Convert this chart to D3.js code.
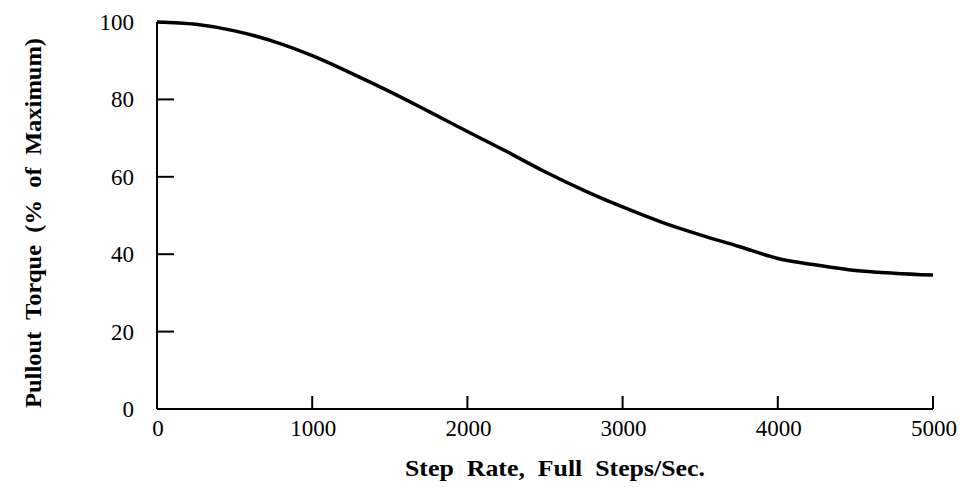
<!DOCTYPE html>
<html><head><meta charset="utf-8">
<script src="https://cdn.jsdelivr.net/npm/d3@7"></script>
<style>body{margin:0;background:#fff}svg{display:block}</style>
</head><body>
<svg id="c" width="964" height="487"></svg>
<script>
const stepRates = [0,250,500,750,1000,1250,1500,1750,2000,2250,2500,2750,3000,3250,3500,3750,4000,4250,4500,4750,5000];
const torque   = [100,99.4,97.7,95.0,91.3,86.8,82.0,76.9,71.7,66.6,61.3,56.5,52.2,48.3,45.0,42.0,38.9,37.2,35.8,35.1,34.6];
const xTicks = [0,1000,2000,3000,4000,5000];
const yTicks = [0,20,40,60,80,100];
const xTitle = "Step  Rate,  Full  Steps/Sec.";
const yTitle = "Pullout  Torque  (%  of  Maximum)";

const svg = d3.select("#c");
const x = d3.scaleLinear().domain([0,5000]).range([157,933]);
const y = d3.scaleLinear().domain([0,100]).range([409,22]);
const font = "'Liberation Serif','Times New Roman',serif";

// axes lines
svg.append("line").attr("x1",x(0)).attr("x2",x(5000)).attr("y1",y(0)).attr("y2",y(0)).attr("stroke","#000").attr("stroke-width",2);
svg.append("line").attr("x1",x(0)).attr("x2",x(0)).attr("y1",y(0)).attr("y2",y(100)).attr("stroke","#000").attr("stroke-width",2);

// x ticks (inward)
svg.selectAll(".xt").data(xTicks.filter(d=>d>0)).join("line")
  .attr("x1",d=>x(d)).attr("x2",d=>x(d)).attr("y1",y(0)).attr("y2",y(0)-13)
  .attr("stroke","#000").attr("stroke-width",2);
svg.selectAll(".xl").data(xTicks).join("text")
  .attr("x",d=>x(d)+1).attr("y",y(0)+27).attr("text-anchor","middle")
  .attr("font-family",font).attr("font-size",23).text(d=>d);

// y ticks (inward)
svg.selectAll(".yt").data(yTicks.filter(d=>d>0&&d<100)).join("line")
  .attr("x1",x(0)).attr("x2",x(0)+17).attr("y1",d=>y(d)).attr("y2",d=>y(d))
  .attr("stroke","#000").attr("stroke-width",2);
svg.selectAll(".yl").data(yTicks).join("text")
  .attr("x",134).attr("y",d=>y(d)).attr("dy","0.35em").attr("text-anchor","end")
  .attr("font-family",font).attr("font-size",23).text(d=>d);

// curve
const line = d3.line().x((d,i)=>x(stepRates[i])).y(d=>y(d)).curve(d3.curveMonotoneX);
svg.append("path").datum(torque).attr("d",line).attr("fill","none")
  .attr("stroke","#000").attr("stroke-width",3.5).attr("stroke-linejoin","round");

// titles
svg.append("text").attr("x",555).attr("y",476).attr("text-anchor","middle")
  .attr("font-family",font).attr("font-weight","bold").attr("font-size",23)
  .attr("textLength",300).attr("lengthAdjust","spacingAndGlyphs")
  .style("white-space","pre").text(xTitle);
svg.append("text").attr("transform","translate(41,223) rotate(-90)").attr("text-anchor","middle")
  .attr("font-family",font).attr("font-weight","bold").attr("font-size",24)
  .attr("textLength",370).attr("lengthAdjust","spacingAndGlyphs")
  .style("white-space","pre").text(yTitle);
</script>
</body></html>
